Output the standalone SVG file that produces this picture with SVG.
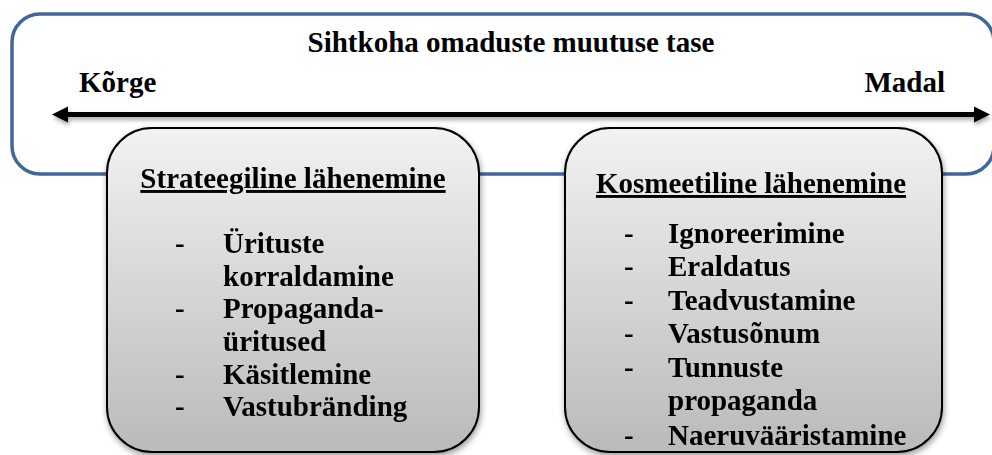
<svg xmlns="http://www.w3.org/2000/svg" width="992" height="455" viewBox="0 0 992 455" font-family="'Liberation Serif', 'Times New Roman', 'DejaVu Serif', serif">
<defs>
<linearGradient id="g" x1="0" y1="0" x2="0" y2="1">
<stop offset="0" stop-color="#f2f2f2"/>
<stop offset="1" stop-color="#bababa"/>
</linearGradient>
<filter id="sh" x="-10%" y="-10%" width="125%" height="125%">
<feGaussianBlur in="SourceAlpha" stdDeviation="3"/>
<feOffset dx="1" dy="3" result="b"/>
<feComponentTransfer><feFuncA type="linear" slope="0.4"/></feComponentTransfer>
<feMerge><feMergeNode/><feMergeNode in="SourceGraphic"/></feMerge>
</filter>
<filter id="sh2" filterUnits="userSpaceOnUse" x="0" y="90" width="992" height="50">
<feGaussianBlur in="SourceAlpha" stdDeviation="2"/>
<feOffset dx="1" dy="3" result="b"/>
<feComponentTransfer><feFuncA type="linear" slope="0.35"/></feComponentTransfer>
<feMerge><feMergeNode/><feMergeNode in="SourceGraphic"/></feMerge>
</filter>
<marker id="ah" viewBox="0 0 10 10" refX="2" refY="5" markerWidth="3.3" markerHeight="3.3" orient="auto-start-reverse" markerUnits="strokeWidth">
<path d="M0,0 L10,5 L0,10 z" fill="#000"/>
</marker>
<style>
text{font-family:"Liberation Serif","Times New Roman","DejaVu Serif",serif;font-weight:bold;font-size:29px;fill:#000}
.box{fill:url(#g);stroke:#000;stroke-width:2}
.h{text-decoration:underline}
</style>
</defs>
<g id="outer">
<rect x="12" y="14" width="982" height="160" rx="28" ry="28" fill="#fff" stroke="#41679a" stroke-width="3.5"/>
<text x="511" y="52" text-anchor="middle">Sihtkoha omaduste muutuse tase</text>
<text x="79" y="92">Kõrge</text>
<text x="945" y="92" text-anchor="end">Madal</text>
</g>
<g id="connectors" filter="url(#sh2)">
<line x1="65" y1="114.5" x2="977" y2="114.5" stroke="#000" stroke-width="5" marker-start="url(#ah)" marker-end="url(#ah)"/>
</g>
<g id="strateegiline" filter="url(#sh)">
<rect class="box" x="107" y="128" width="372" height="324" rx="45" ry="45"/>
<text class="h" x="293" y="188" text-anchor="middle">Strateegiline lähenemine</text>
<text x="175" y="253">-</text><text x="223" y="253">Ürituste</text>
<text x="223" y="286">korraldamine</text>
<text x="175" y="318">-</text><text x="223" y="318">Propaganda-</text>
<text x="223" y="351">üritused</text>
<text x="175" y="384">-</text><text x="223" y="384">Käsitlemine</text>
<text x="175" y="416">-</text><text x="223" y="416">Vastubränding</text>
</g>
<g id="kosmeetiline" filter="url(#sh)">
<rect class="box" x="565" y="128" width="377" height="324" rx="45" ry="45"/>
<text class="h" x="751" y="193" text-anchor="middle">Kosmeetiline lähenemine</text>
<text x="624" y="243">-</text><text x="668" y="243">Ignoreerimine</text>
<text x="624" y="276">-</text><text x="668" y="276">Eraldatus</text>
<text x="624" y="310">-</text><text x="668" y="310">Teadvustamine</text>
<text x="624" y="343">-</text><text x="668" y="343">Vastusõnum</text>
<text x="624" y="377">-</text><text x="668" y="377">Tunnuste</text>
<text x="668" y="410">propaganda</text>
<text x="624" y="445">-</text><text x="668" y="445">Naeruvääristamine</text>
</g>
</svg>
